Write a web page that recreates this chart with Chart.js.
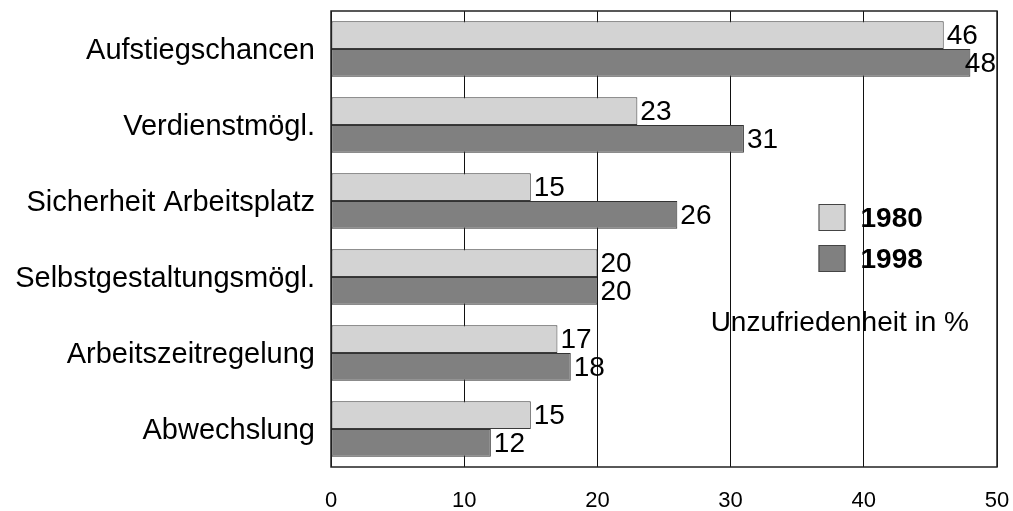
<!DOCTYPE html>
<html>
<head>
<meta charset="utf-8">
<style>
  html, body { margin: 0; padding: 0; background: #fff; }
  #wrap { width: 1013px; height: 511px; }
</style>
<script src="https://cdn.jsdelivr.net/npm/chart.js@4/dist/chart.umd.min.js"></script>
</head>
<body>
<div id="wrap"><canvas id="c" width="1013" height="511"></canvas></div>
<script>
const categories = [
  "Aufstiegschancen",
  "Verdienstmögl.",
  "Sicherheit Arbeitsplatz",
  "Selbstgestaltungsmögl.",
  "Arbeitszeitregelung",
  "Abwechslung"
];
const values1980 = [46, 23, 15, 20, 17, 15];
const values1998 = [48, 31, 26, 20, 18, 12];
const xTicks = [0, 10, 20, 30, 40, 50];
const seriesNames = ["1980", "1998"];
const noteText = "Unzufriedenheit in %";

const FONT = "'Liberation Sans', Arial, Helvetica, sans-serif";

// frame around the plot area
const frame = {
  id: 'frame',
  beforeDatasetsDraw(chart) {
    const { ctx, chartArea: a } = chart;
    ctx.save();
    ctx.strokeStyle = '#222';
    ctx.lineWidth = 1.5;
    ctx.strokeRect(a.left, a.top, a.right - a.left, a.bottom - a.top);
    ctx.restore();
  }
};

// value labels at the bar ends (kept inside the frame), plus the in-plot legend and note
const annotate = {
  id: 'annotate',
  afterDatasetsDraw(chart) {
    const { ctx, chartArea: a } = chart;
    ctx.save();
    ctx.font = "28px " + FONT;
    ctx.fillStyle = '#000';
    ctx.textBaseline = 'middle';
    ctx.textAlign = 'left';
    chart.data.datasets.forEach((ds, di) => {
      chart.getDatasetMeta(di).data.forEach((bar, i) => {
        const txt = String(ds.data[i]);
        const w = ctx.measureText(txt).width;
        const x = Math.min(bar.x + 3, a.right - w - 1);
        ctx.fillText(txt, x, bar.y + 1);
      });
    });

    const xs = chart.scales.x;
    const boxX = xs.getPixelForValue(36.6);
    const tops = [204, 245];
    chart.data.datasets.forEach((ds, di) => {
      ctx.fillStyle = ds.backgroundColor;
      ctx.fillRect(boxX, tops[di], 27, 27);
      ctx.strokeStyle = '#444';
      ctx.lineWidth = 1;
      ctx.strokeRect(boxX + 0.5, tops[di] + 0.5, 26, 26);
      ctx.fillStyle = '#000';
      ctx.font = "bold 28px " + FONT;
      ctx.fillText(seriesNames[di], boxX + 42, tops[di] + 15);
    });
    ctx.font = "28px " + FONT;
    ctx.textAlign = 'center';
    ctx.fillText(noteText, xs.getPixelForValue(38.2), 323);
    ctx.restore();
  }
};

new Chart(document.getElementById('c'), {
  type: 'bar',
  data: {
    labels: categories,
    datasets: [
      { label: seriesNames[0], data: values1980, backgroundColor: '#d3d3d3',
        borderColor: '#3a3a3a', borderWidth: 1, borderSkipped: false },
      { label: seriesNames[1], data: values1998, backgroundColor: '#808080',
        borderColor: '#333', borderWidth: 1, borderSkipped: false }
    ]
  },
  options: {
    indexAxis: 'y',
    responsive: false,
    animation: false,
    devicePixelRatio: 1,
    layout: { padding: { top: 11, right: 16, left: 0, bottom: 0 } },
    datasets: { bar: { categoryPercentage: 0.73, barPercentage: 1 } },
    plugins: { legend: { display: false }, tooltip: { enabled: false } },
    scales: {
      x: {
        min: 0, max: 50,
        afterBuildTicks(scale) { scale.ticks = xTicks.map(v => ({ value: v })); },
        afterFit(scale) {
          scale.height = 44;
          scale.paddingLeft = 0; scale.paddingRight = 0;
          scale.paddingTop = 0; scale.paddingBottom = 0;
        },
        grid: { color: '#111', lineWidth: 1, drawTicks: false },
        border: { display: false },
        ticks: { color: '#000', font: { family: FONT, size: 22 }, padding: 21 }
      },
      y: {
        afterFit(scale) {
          scale.width = 331;
          scale.paddingLeft = 0; scale.paddingRight = 0;
          scale.paddingTop = 0; scale.paddingBottom = 0;
        },
        grid: { display: false },
        border: { display: false },
        ticks: { color: '#000', font: { family: FONT, size: 29 }, padding: 8, labelOffset: 2 }
      }
    }
  },
  plugins: [frame, annotate]
});
</script>
</body>
</html>
